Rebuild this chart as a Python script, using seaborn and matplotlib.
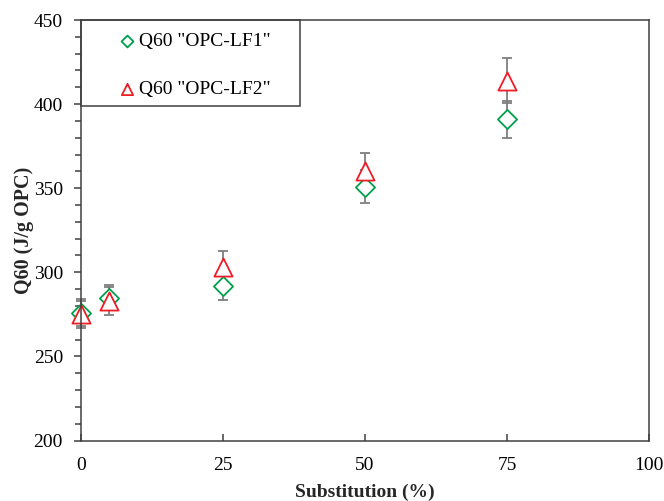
import matplotlib
matplotlib.use("Agg")
import matplotlib.pyplot as plt
from matplotlib.patches import Rectangle
from matplotlib.ticker import MultipleLocator
import seaborn as sns
import pandas as pd

# Heat release at 60 h versus limestone filler substitution
substitution = [0, 5, 25, 50, 75]
q60_lf1 = [276, 285, 292, 351, 391]
q60_lf1_err = [8, 7.5, 8.5, 10, 11]
q60_lf2 = [275, 283, 303, 360, 414]
q60_lf2_err = [8, 8.5, 9.5, 11, 13.5]

label_lf1 = 'Q60 "OPC-LF1"'
label_lf2 = 'Q60 "OPC-LF2"'

green = "#00a04b"
red = "#ee1c25"
err_gray = "#7f7f7f"
spine_col = "#404040"

sns.set_theme(style="ticks")
plt.rcParams["font.family"] = ["Liberation Serif", "DejaVu Serif"]

df1 = pd.DataFrame({"x": substitution, "y": q60_lf1})
df2 = pd.DataFrame({"x": substitution, "y": q60_lf2})

fig = plt.figure(figsize=(6.64, 5.01), dpi=100)
ax = fig.add_axes([81 / 664, 1 - 440.5 / 501, 568 / 664, 420.5 / 501])

for yv, ev in ((q60_lf1, q60_lf1_err), (q60_lf2, q60_lf2_err)):
    eb = ax.errorbar(substitution, yv, yerr=ev, fmt="none",
                     ecolor=err_gray, elinewidth=1.3, capsize=3.6,
                     capthick=1.3, zorder=2)
    for art in eb.lines[1] + eb.lines[2]:
        art.set_clip_on(False)

sns.scatterplot(data=df1, x="x", y="y", ax=ax, marker="D", s=95,
                facecolor="white", edgecolor=green, linewidth=1.3,
                label=label_lf1, zorder=3, clip_on=False)
sns.scatterplot(data=df2, x="x", y="y", ax=ax, marker="^", s=170,
                facecolor="white", edgecolor=red, linewidth=1.3,
                label=label_lf2, zorder=4, clip_on=False)

ax.set_xlim(0, 100)
ax.set_ylim(200, 450)
ax.xaxis.set_major_locator(MultipleLocator(25))
ax.yaxis.set_major_locator(MultipleLocator(50))
ax.yaxis.set_minor_locator(MultipleLocator(10))

for s in ax.spines.values():
    s.set_visible(True)
    s.set_color(spine_col)
    s.set_linewidth(1.1)
    s.set_zorder(5)

ax.tick_params(axis="x", which="major", direction="in", length=5, width=1.1,
               color=spine_col, labelsize=14, pad=12, labelcolor="black")
ax.tick_params(axis="y", which="major", direction="out", length=5, width=1.1,
               color=spine_col, labelsize=14, pad=8, labelcolor="black")
ax.tick_params(axis="y", which="minor", direction="out", length=4, width=1.1,
               color=spine_col)

ax.set_xlabel("Substitution (%)", fontsize=14, fontweight="bold", labelpad=6.5)
ax.set_ylabel("Q60 (J/g OPC)", fontsize=14.5, fontweight="bold", labelpad=0)

leg = ax.legend(loc="upper left", bbox_to_anchor=((117 - 81) / 568, 1 - 12 / 420),
                frameon=False, fontsize=14, markerscale=0.62, handlelength=1.0,
                handletextpad=0.15, labelspacing=1.6, borderpad=0,
                borderaxespad=0)
for t in leg.get_texts():
    t.set_color("black")

ax.add_patch(Rectangle((0, 1 - 86 / 420), 219 / 568, 86 / 420,
                       transform=ax.transAxes, facecolor="white",
                       edgecolor=spine_col, linewidth=1.1, zorder=1,
                       clip_on=False))

fig.savefig("out.png", dpi=100)
